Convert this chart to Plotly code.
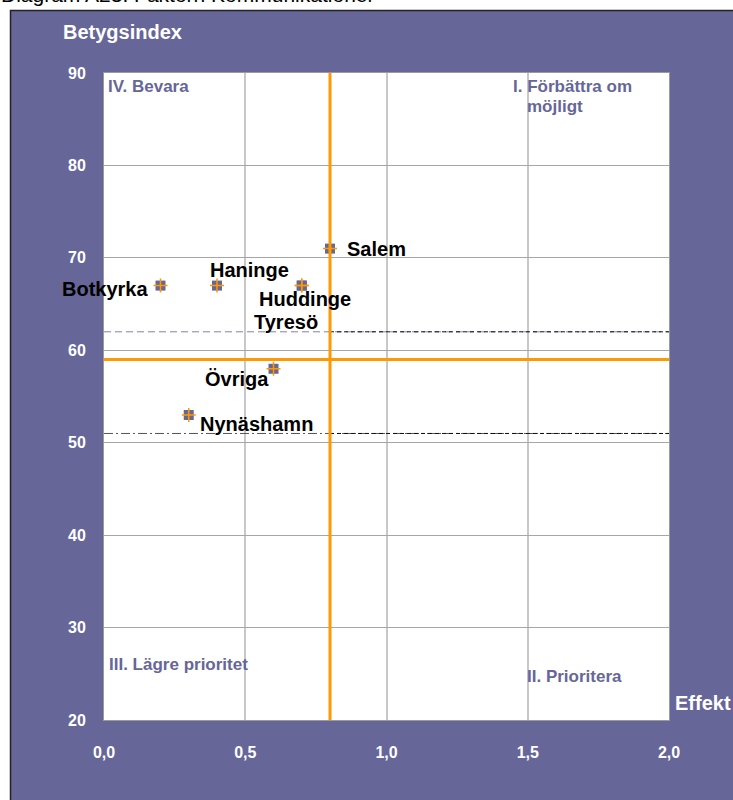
import plotly.graph_objects as go

# ---- data ----
kommuner = ["Salem", "Botkyrka", "Haninge", "Huddinge", "Tyresö", "Övriga", "Nynäshamn"]
effekt = [0.8, 0.2, 0.4, 0.7, 0.7, 0.6, 0.3]
betygsindex = [71, 67, 67, 67, 67, 58, 53]

x_ticks = [0.0, 0.5, 1.0, 1.5, 2.0]
y_ticks = [20, 30, 40, 50, 60, 70, 80, 90]

mean_effekt = 0.8      # orange vertical line
mean_index = 59        # orange horizontal line
upper_index = 62       # dashed line
lower_index = 51       # dash-dot line

quadrants = ["IV. Bevara", "I. Förbättra om", "möjligt", "III. Lägre prioritet", "II. Prioritera"]

# ---- styles ----
PURPLE = "#666699"
ORANGE = "#ff9900"
FONT = "Arial, 'Liberation Sans', sans-serif"

# label offsets (pixels) relative to marker: (xanchor, xshift, yshift)
label_style = {
    "Salem": ("left", 15, 0),
    "Botkyrka": ("right", -11, -3),
    "Haninge": ("left", -9, 16),
    "Huddinge": ("left", -45, -13),
    "Tyresö": ("left", -50, -36),
    "Övriga": ("left", -71, -10),
    "Nynäshamn": ("left", 9, -9),
}

fig = go.Figure()

fig.add_trace(go.Scatter(
    x=effekt, y=betygsindex, mode="markers",
    marker=dict(symbol="square", size=10, color=PURPLE, line=dict(width=0)),
    hoverinfo="skip", showlegend=False, cliponaxis=False))
fig.add_trace(go.Scatter(
    x=effekt, y=betygsindex, mode="markers",
    marker=dict(symbol="cross-thin", size=10, color=ORANGE,
                line=dict(width=1.5, color=ORANGE)),
    text=kommuner, showlegend=False, cliponaxis=False))

shapes = []
def px_to_paper_x(px):
    return (px - 104) / 565.0
def px_to_paper_y(py):
    return (720 - py) / 647.0

# outer frame (page strips + border)
shapes.append(dict(type="rect", xref="paper", yref="paper",
                   x0=px_to_paper_x(-5), x1=px_to_paper_x(740),
                   y0=px_to_paper_y(-5), y1=px_to_paper_y(10),
                   fillcolor="white", line=dict(width=0), layer="below"))
shapes.append(dict(type="rect", xref="paper", yref="paper",
                   x0=px_to_paper_x(-5), x1=px_to_paper_x(10),
                   y0=px_to_paper_y(-5), y1=px_to_paper_y(805),
                   fillcolor="white", line=dict(width=0), layer="below"))
shapes.append(dict(type="rect", xref="paper", yref="paper",
                   x0=px_to_paper_x(10.5), x1=px_to_paper_x(745),
                   y0=px_to_paper_y(10.5), y1=px_to_paper_y(810),
                   fillcolor="rgba(0,0,0,0)", line=dict(width=1.5, color="#222222"),
                   layer="above"))

# reference lines
shapes.append(dict(type="line", xref="x", yref="y", x0=x_ticks[0], x1=x_ticks[-1],
                   y0=upper_index, y1=upper_index,
                   line=dict(color="#8080b4", width=1, dash="7px,4px"), layer="above"))
shapes.append(dict(type="line", xref="x", yref="y", x0=mean_effekt, x1=x_ticks[-1],
                   y0=upper_index, y1=upper_index,
                   line=dict(color="#111111", width=1, dash="4px,3px"), layer="above"))
shapes.append(dict(type="line", xref="x", yref="y", x0=x_ticks[0], x1=x_ticks[-1],
                   y0=lower_index, y1=lower_index,
                   line=dict(color="#555555", width=1, dash="9px,3px,2px,3px"), layer="above"))
shapes.append(dict(type="line", xref="x", yref="y", x0=mean_effekt, x1=x_ticks[-1],
                   y0=lower_index, y1=lower_index,
                   line=dict(color="#111111", width=1, dash="4px,3px"), layer="above"))
shapes.append(dict(type="line", xref="x", yref="y", x0=x_ticks[0], x1=x_ticks[-1],
                   y0=mean_index, y1=mean_index,
                   line=dict(color=ORANGE, width=3), layer="above"))
shapes.append(dict(type="line", xref="x", yref="y", x0=mean_effekt, x1=mean_effekt,
                   y0=y_ticks[0], y1=y_ticks[-1],
                   line=dict(color=ORANGE, width=3), layer="above"))

annotations = []
for name, xv, yv in zip(kommuner, effekt, betygsindex):
    xa, xs, ys = label_style[name]
    annotations.append(dict(x=xv, y=yv, xref="x", yref="y", text=name,
                            showarrow=False, xanchor=xa, yanchor="middle",
                            xshift=xs, yshift=ys,
                            font=dict(family=FONT, size=20, color="black", weight="bold")))

# quadrant labels (data coords)
quad_pos = [(0.008, 88.5), (1.44, 88.5), (1.49, 86.4), (0.01, 26.0), (1.492, 24.7)]
for q, (qx, qy) in zip(quadrants, quad_pos):
    annotations.append(dict(x=qx, y=qy, xref="x", yref="y", text=q, showarrow=False,
                            xanchor="left", yanchor="middle",
                            font=dict(family=FONT, size=17, color=PURPLE, weight="bold")))

# axis titles
annotations.append(dict(x=px_to_paper_x(61), y=px_to_paper_y(32), xref="paper", yref="paper",
                        text="Betygsindex", showarrow=False, xanchor="left", yanchor="middle",
                        font=dict(family=FONT, size=20, color="white", weight="bold")))
annotations.append(dict(x=px_to_paper_x(673), y=px_to_paper_y(703), xref="paper", yref="paper",
                        text="Effekt", showarrow=False, xanchor="left", yanchor="middle",
                        font=dict(family=FONT, size=20, color="white", weight="bold")))
# cut-off page caption
annotations.append(dict(x=px_to_paper_x(-1), y=px_to_paper_y(8), xref="paper", yref="paper",
                        text="Diagram A23. Faktorn Kommunikationer", showarrow=False,
                        xanchor="left", yanchor="bottom",
                        font=dict(family=FONT, size=21, color="black")))

fig.update_layout(
    width=733, height=800,
    margin=dict(l=104, r=64, t=73, b=80, pad=0),
    paper_bgcolor=PURPLE, plot_bgcolor="white",
    separators=", ",
    shapes=shapes, annotations=annotations,
    showlegend=False,
    font=dict(family=FONT),
)
fig.update_xaxes(range=[x_ticks[0], x_ticks[-1]], tickvals=x_ticks,
                 ticktext=[f"{v:.1f}".replace(".", ",") for v in x_ticks],
                 showgrid=True, gridcolor="#c8c8c8", gridwidth=1.5, zeroline=False,
                 showline=True, linecolor="#9a9a9a", linewidth=1, mirror=True,
                 ticks="", ticklabelstandoff=18,
                 tickfont=dict(family=FONT, size=16, color="white", weight="bold"))
fig.update_yaxes(range=[y_ticks[0], y_ticks[-1]], tickvals=y_ticks,
                 showgrid=True, gridcolor="#a6a6a6", gridwidth=1, zeroline=False,
                 showline=True, linecolor="#9a9a9a", linewidth=1, mirror=True,
                 ticks="", ticklabelstandoff=14,
                 tickfont=dict(family=FONT, size=16, color="white", weight="bold"))

fig.write_html(
    "out.html",
    config={"displayModeBar": False},
    post_script="document.body.style.margin='0';document.documentElement.style.overflow='hidden';document.body.style.overflow='hidden';",
)
